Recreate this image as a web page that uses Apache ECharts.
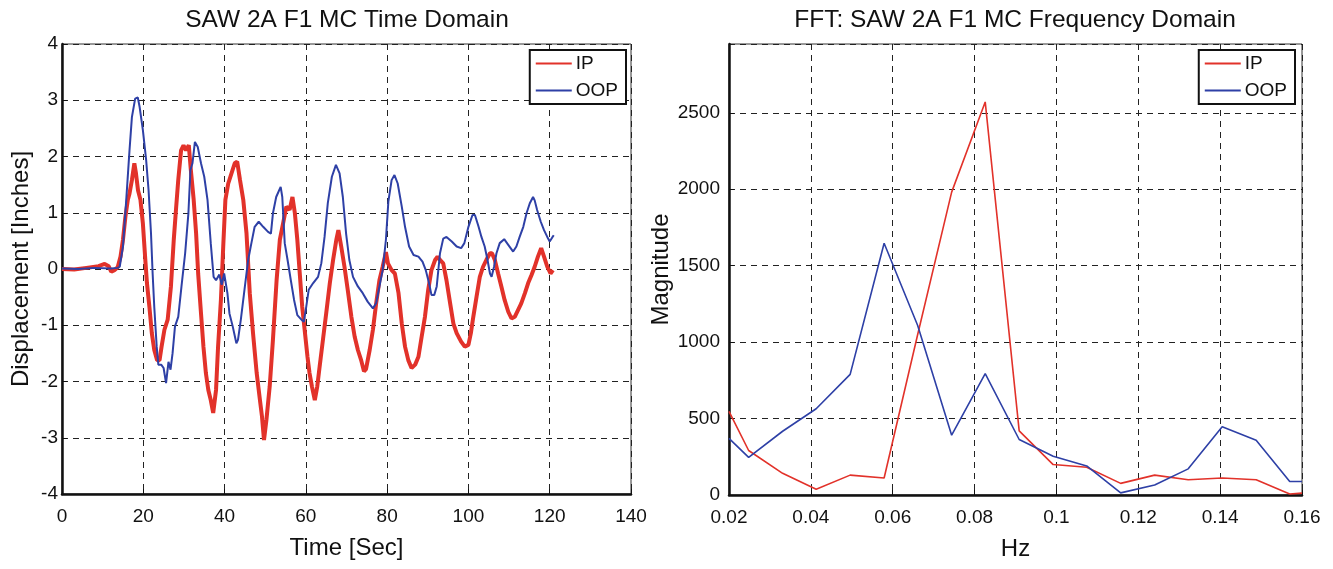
<!DOCTYPE html>
<html>
<head>
<meta charset="utf-8">
<script src="https://cdn.jsdelivr.net/npm/echarts@6/dist/echarts.min.js"></script>
<style>
  html, body { margin: 0; padding: 0; background: #fff; }
  #chart { width: 1333px; height: 569px; }
</style>
</head>
<body>
<div id="chart"></div>
<script>
// Time domain (sec, inches)
const ipTime = [0, 3, 6, 9, 10.5, 11.5, 12.1, 12.9, 13.7, 14.4, 15, 15.6, 16.2, 16.6, 17.2, 17.8, 18.2, 18.7, 19.3, 19.9,
  20.5, 20.9, 21.5, 22.1, 22.7, 23.4, 24, 24.5, 25.2, 26, 26.8, 27.5, 28.1, 28.6, 29.3, 29.9, 30.5, 31.2, 31.7, 32.4,
  33, 33.5, 34.2, 34.8, 35.4, 36, 36.6, 37.2, 37.9, 38.4, 39.1, 39.7, 40.2, 40.9, 41.7, 42.5, 43.1, 43.8, 44.6, 45.4,
  46.2, 47, 47.9, 48.7, 49.2, 49.7, 50.3, 51.1, 51.9, 52.8, 53.6, 54.4, 55.2, 56, 56.7, 57.3, 57.9, 58.5, 59.1, 59.7,
  60.4, 60.9, 61.5, 62.2, 62.8, 63.4, 64.2, 65, 65.9, 66.7, 67.5, 68, 68.7, 69.5, 70.3, 71.2, 72, 72.8, 73.6, 74.3,
  74.8, 75.7, 76.5, 77.3, 78.1, 78.9, 79.7, 80.2, 81.1, 81.9, 82.8, 83.6, 84.4, 85.2, 86, 86.9, 87.7, 88.5, 89.3, 90.1,
  90.9, 91.8, 92.4, 93, 93.8, 94.6, 95.5, 96.3, 97.1, 98.2, 99.1, 100, 100.6, 101.2, 102, 102.8, 103.6, 104.4, 105.3, 105.8,
  106.5, 107.3, 108.1, 108.9, 109.8, 110.6, 111.4, 112.2, 113, 113.9, 114.7, 115.5, 116.3, 117.1, 117.9, 118.6, 119.4, 120.2, 120.8];
const ipDisp = [0, -0.01, 0.02, 0.05, 0.09, 0.05, -0.05, -0.02, 0.03, 0.22, 0.52, 0.93, 1.23, 1.34, 1.58, 1.88, 1.7, 1.4, 1.23, 0.81,
  0.16, -0.25, -0.67, -1.14, -1.44, -1.62, -1.62, -1.38, -1.08, -0.9, -0.31, 0.52, 1.11, 1.58, 2.11, 2.2, 2.11, 2.2, 1.76, 1.23,
  0.63, -0.08, -0.79, -1.38, -1.85, -2.15, -2.33, -2.56, -2.15, -1.38, -0.55, 0.45, 1.23, 1.52, 1.7, 1.88, 1.91, 1.58, 1.23, 0.63,
  -0.43, -1.14, -1.85, -2.33, -2.62, -3.04, -2.68, -2.09, -1.26, -0.2, 0.52, 0.81, 1.11, 1.05, 1.28, 0.99, 0.52, -0.08, -0.67, -1.08,
  -1.56, -1.85, -2.09, -2.33, -2.09, -1.73, -1.26, -0.79, -0.25, 0.16, 0.52, 0.69, 0.4, 0.04, -0.37, -0.85, -1.2, -1.44, -1.62, -1.82,
  -1.78, -1.44, -1.08, -0.61, -0.2, 0.04, 0.3, 0.1, -0.02, -0.08, -0.43, -0.97, -1.38, -1.62, -1.76, -1.7, -1.56, -1.2, -0.85, -0.37,
  -0.02, 0.16, 0.22, 0.16, 0.1, -0.2, -0.61, -0.97, -1.14, -1.29, -1.38, -1.35, -1.14, -0.85, -0.49, -0.14, 0.04, 0.16, 0.28, 0.28,
  0.16, -0.08, -0.31, -0.55, -0.76, -0.88, -0.85, -0.73, -0.61, -0.43, -0.25, -0.11, 0.04, 0.22, 0.37, 0.22, 0.04, -0.08, -0.02];

const oopTime = [0, 4, 8, 12, 13.7, 14.2, 15, 15.8, 16.6, 17.2, 18, 18.65, 19.1, 19.9, 20.7, 21.3, 21.9, 22.3, 22.7, 23.3,
  23.7, 24.4, 25, 25.6, 26.2, 26.7, 27.2, 27.8, 28.6, 29.4, 30.3, 31.1, 31.6, 32.1, 32.7, 33.4, 34.2, 35, 35.8, 36.6,
  37.3, 37.9, 38.7, 39.3, 39.9, 40.7, 41.2, 42, 42.9, 43.3, 44, 45, 45.8, 46.6, 47.4, 48.4, 49.5, 50.7, 51.4, 51.9,
  52.7, 53.8, 54.2, 54.8, 55.5, 56.3, 57.1, 57.9, 58.9, 59.5, 60.1, 60.7, 61.8, 63, 63.8, 64.6, 65.4, 66.4, 67.4, 68.3,
  69.1, 69.9, 70.7, 71.6, 72.8, 74, 75.2, 76.5, 77.3, 78.1, 78.9, 79.7, 80.3, 81.1, 81.8, 82.6, 83.6, 84.4, 85.4, 86.5,
  87.7, 88.7, 89.5, 90.3, 90.9, 91.6, 92.2, 93, 93.8, 94.6, 95.9, 97.1, 98.2, 99, 100, 101, 101.6, 102.5, 103.2, 104,
  104.7, 105.3, 105.7, 106.3, 106.9, 107.7, 108.8, 109.8, 111, 111.8, 112.6, 113.5, 114.3, 115.1, 115.9, 116.3, 116.9, 117.8, 118.6, 119.4,
  120, 120.7, 121];
const oopDisp = [0.01, 0, 0.02, 0.01, 0.02, 0.04, 0.4, 1.22, 2.1, 2.7, 3.03, 3.05, 2.88, 2.47, 1.94, 1.4, 0.63, -0.08, -0.67, -1.38,
  -1.7, -1.7, -1.76, -2.03, -1.65, -1.79, -1.5, -1.02, -0.85, -0.31, 0.28, 0.99, 1.76, 1.88, 2.26, 2.17, 1.88, 1.64, 1.23, 0.46,
  -0.14, -0.2, -0.1, -0.28, -0.08, -0.43, -0.79, -1.02, -1.32, -1.26, -0.9, -0.31, 0.16, 0.46, 0.75, 0.84, 0.75, 0.66, 0.63, 0.99,
  1.28, 1.46, 1.28, 0.46, 0.16, -0.2, -0.55, -0.82, -0.9, -0.94, -0.67, -0.37, -0.25, -0.14, 0.1, 0.57, 1.17, 1.64, 1.85, 1.7,
  1.28, 0.63, 0.16, -0.14, -0.31, -0.43, -0.58, -0.7, -0.61, -0.31, -0.02, 0.52, 1.2, 1.58, 1.67, 1.52, 1.11, 0.75, 0.4, 0.25,
  0.22, 0.13, -0.02, -0.25, -0.46, -0.46, -0.31, 0.28, 0.54, 0.57, 0.49, 0.4, 0.37, 0.46, 0.75, 0.96, 0.96, 0.75, 0.57, 0.4,
  0.16, -0.08, -0.14, 0.04, 0.28, 0.46, 0.53, 0.43, 0.31, 0.4, 0.57, 0.75, 0.99, 1.17, 1.28, 1.22, 1.05, 0.84, 0.69, 0.57,
  0.49, 0.57, 0.6];

// Frequency domain (Hz, magnitude)
const ipFreq = [0.02, 0.0248, 0.0331, 0.0413, 0.0496, 0.0579, 0.0661, 0.0744, 0.0826, 0.0909, 0.0992, 0.1074, 0.1157, 0.124, 0.1322, 0.1405, 0.1488, 0.157, 0.16];
const ipMag = [547, 291, 142, 38, 130, 111, 1050, 1981, 2571, 419, 199, 182, 76, 130, 100, 111, 100, 7, 12];
const oopFreq = [0.02, 0.0248, 0.0331, 0.0413, 0.0496, 0.0579, 0.0661, 0.0744, 0.0826, 0.0909, 0.0992, 0.1074, 0.1157, 0.124, 0.1322, 0.1405, 0.1488, 0.157, 0.16];
const oopMag = [370, 246, 417, 564, 789, 1647, 1109, 391, 794, 363, 254, 190, 14, 66, 171, 446, 358, 88, 88];

const zip = (xs, ys) => xs.map((x, i) => [x, ys[i]]);

const FONT = '"Liberation Sans", Arial, Helvetica, sans-serif';
const RED = '#e2322a';
const BLUE = '#2e40a6';

const gridLine = { show: true, lineStyle: { color: '#222', width: 1, type: [6, 5] } };
const frameLine = { show: true, onZero: false, lineStyle: { color: '#111', width: 2.5 } };
const tickIn = { show: true, inside: true, length: 5, lineStyle: { color: '#111' } };

function legendAt(right) {
  return {
    data: ['IP', 'OOP'],
    orient: 'vertical',
    right: right,
    top: 50,
    padding: [4, 8, 4, 6],
    icon: 'rect',
    itemWidth: 36,
    itemHeight: 2,
    itemGap: 8,
    backgroundColor: '#fff',
    borderColor: '#111',
    borderWidth: 2,
    borderRadius: 0,
    textStyle: { fontFamily: FONT, fontSize: 19, color: '#111', lineHeight: 19, padding: [0, 0, 0, -1] }
  };
}

const chart = echarts.init(document.getElementById('chart'));

chart.setOption({
  backgroundColor: '#fff',
  animation: false,
  textStyle: { fontFamily: FONT },
  graphic: [
    { type: 'text', x: 347, y: 20, style: { text: 'SAW 2A F1 MC Time Domain', font: '24.5px ' + FONT, fill: '#111', align: 'center', verticalAlign: 'middle' } },
    { type: 'text', x: 1015, y: 20, style: { text: 'FFT: SAW 2A F1 MC Frequency Domain', font: '24.5px ' + FONT, fill: '#111', align: 'center', verticalAlign: 'middle' } }
  ],
  legend: [legendAt(1333 - 626), legendAt(1333 - 1295)],
  grid: [
    { left: 62, top: 44, width: 569, height: 450, show: true, borderColor: '#333', borderWidth: 1 },
    { left: 729, top: 44, width: 573, height: 451, show: true, borderColor: '#333', borderWidth: 1 }
  ],
  xAxis: [
    {
      gridIndex: 0, type: 'value', min: 0, max: 140, interval: 20,
      name: 'Time [Sec]', nameLocation: 'middle', nameGap: 42,
      nameTextStyle: { fontFamily: FONT, fontSize: 24, color: '#111' },
      axisLine: frameLine, axisTick: tickIn, splitLine: gridLine,
      axisLabel: { fontFamily: FONT, fontSize: 19, color: '#111', margin: 13 }
    },
    {
      gridIndex: 1, type: 'value', min: 0.02, max: 0.16, interval: 0.02,
      name: 'Hz', nameLocation: 'middle', nameGap: 42,
      nameTextStyle: { fontFamily: FONT, fontSize: 24, color: '#111' },
      axisLine: frameLine, axisTick: tickIn, splitLine: gridLine,
      axisLabel: { fontFamily: FONT, fontSize: 19, color: '#111', margin: 13,
        formatter: v => String(Math.round(v * 100) / 100) }
    }
  ],
  yAxis: [
    {
      gridIndex: 0, type: 'value', min: -4, max: 4, interval: 1,
      name: 'Displacement [Inches]', nameLocation: 'middle', nameGap: 29,
      nameTextStyle: { fontFamily: FONT, fontSize: 24, color: '#111' },
      axisLine: frameLine, axisTick: tickIn, splitLine: gridLine,
      axisLabel: { fontFamily: FONT, fontSize: 19, color: '#111', margin: 4 }
    },
    {
      gridIndex: 1, type: 'value', min: 0, max: 2950, interval: 500,
      name: 'Magnitude', nameLocation: 'middle', nameGap: 51,
      nameTextStyle: { fontFamily: FONT, fontSize: 24, color: '#111' },
      axisLine: frameLine, axisTick: tickIn, splitLine: gridLine,
      axisLabel: { fontFamily: FONT, fontSize: 19, color: '#111', margin: 9, showMaxLabel: false,
        formatter: v => String(v) }
    }
  ],
  series: [
    { name: 'IP', type: 'line', xAxisIndex: 0, yAxisIndex: 0, data: zip(ipTime, ipDisp),
      symbol: 'none', lineStyle: { color: RED, width: 4 }, itemStyle: { color: RED }, z: 3 },
    { name: 'OOP', type: 'line', xAxisIndex: 0, yAxisIndex: 0, data: zip(oopTime, oopDisp),
      symbol: 'none', lineStyle: { color: BLUE, width: 2 }, itemStyle: { color: BLUE }, z: 4 },
    { name: 'IP', type: 'line', xAxisIndex: 1, yAxisIndex: 1, data: zip(ipFreq, ipMag),
      symbol: 'none', lineStyle: { color: RED, width: 1.6 }, itemStyle: { color: RED }, z: 3 },
    { name: 'OOP', type: 'line', xAxisIndex: 1, yAxisIndex: 1, data: zip(oopFreq, oopMag),
      symbol: 'none', lineStyle: { color: BLUE, width: 1.6 }, itemStyle: { color: BLUE }, z: 4 }
  ]
});
</script>
</body>
</html>
